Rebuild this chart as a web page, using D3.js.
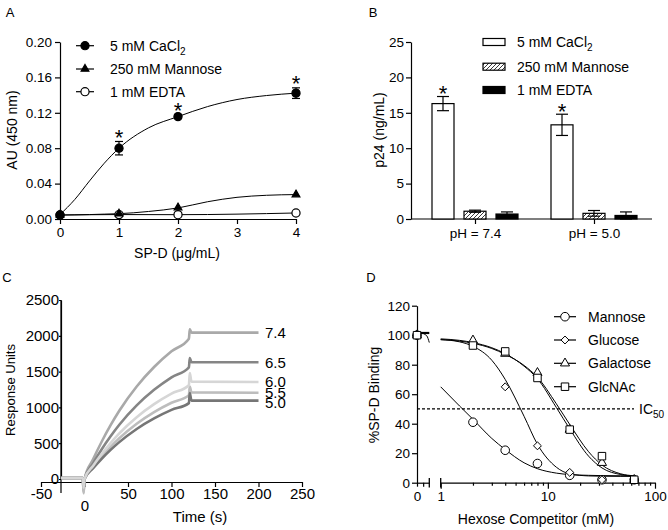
<!DOCTYPE html>
<html><head><meta charset="utf-8">
<script src="https://cdn.jsdelivr.net/npm/d3@7"></script>
<style>body{margin:0;background:#fff}</style>
</head><body>
<script>
// ---- A: binding vs SP-D dose
var doseA = [0, 1, 2, 4];
var caA = [0.0045, 0.080, 0.1157, 0.1422];
var caErrA = [0.001, 0.0076, 0.002, 0.006];
var manA = [0.0045, 0.006, 0.0129, 0.0276];
var edtaA = [0.0045, 0.005, 0.0049, 0.0068];
var fitDoseA = [0, 0.25, 0.5, 0.75, 1, 1.5, 2, 2.5, 3, 3.5, 4];
var caFitA = [0.005, 0.022, 0.043, 0.063, 0.080, 0.103, 0.1157, 0.127, 0.135, 0.1395, 0.1422];
var manFitA = [0.0045, 0.0047, 0.005, 0.0055, 0.006, 0.0085, 0.0125, 0.0195, 0.0245, 0.0268, 0.0276];
var starDoseA = [1, 2, 4];
var legendA = ["5 mM CaCl", "250 mM Mannose", "1 mM EDTA"];

// ---- B: p24 bars
var groupsB = ["pH = 7.4", "pH = 5.0"];
var seriesB = ["5 mM CaCl", "250 mM Mannose", "1 mM EDTA"];
var caB = [16.3, 13.3];
var caErrB = [1.0, 1.5];
var manB = [1.1, 0.8];
var manErrB = [0.15, 0.4];
var edtaB = [0.7, 0.5];
var edtaErrB = [0.3, 0.5];

// ---- C: sensorgrams (time s, response units)
var timeC = [-27, -2, -1, 0, 10, 20, 30, 40, 60, 80, 100, 120, 121, 123, 200];
var ph74 = [15, 15, -180, 0, 278, 527, 751, 953, 1292, 1564, 1784, 1960, 2090, 2045, 2045];
var ph65 = [15, 15, -150, 0, 222, 420, 597, 758, 1028, 1245, 1420, 1560, 1690, 1630, 1630];
var ph60 = [15, 15, -120, 0, 186, 352, 502, 637, 863, 1045, 1192, 1310, 1480, 1360, 1355];
var ph55 = [15, 15, -200, 0, 166, 315, 448, 569, 771, 934, 1065, 1170, 1290, 1210, 1205];
var ph50 = [15, 15, -100, 0, 151, 285, 406, 515, 699, 846, 965, 1060, 1200, 1095, 1095];
var labelsC = ["7.4", "6.5", "6.0", "5.5", "5.0"];

// ---- D: hexose competition
var concD = [2, 4, 8, 16, 32, 64];
var mannoseD = [41, 22, 13, 5, 2, 2];
var glucoseD = [93.5, 65, 25, 7, 2, 2];
var galactoseD = [96.5, 87.5, 74.5, 36, 13.5, 2];
var glcnacD = [93, 89, 71, 36, 18, 2];
var zeroD = 100;
var fitConcD = [1, 1.5, 2, 3, 4, 6, 8, 12, 16, 24, 32, 48, 64];
var mannoseFit = [65, 52, 43, 30, 22.5, 13.5, 9.5, 6.5, 5.5, 5, 4.8, 4.7, 4.7];
var glucoseFit = [97, 95.5, 92.5, 83, 70, 45, 26, 10.5, 6, 4.6, 4.4, 4.3, 4.3];
var galactoseFit = [97.5, 96.5, 95, 91.5, 87.5, 79, 70.5, 51, 36.5, 18, 10, 5.5, 4.5];
var glcnacFit = [97, 96, 94.5, 91, 87, 79.5, 71.5, 53.5, 39.5, 21, 12, 6, 4.7];
var legendD = ["Mannose", "Glucose", "Galactose", "GlcNAc"];

var FONT = "'Liberation Sans', Arial, Helvetica, sans-serif";
var plain = function(d) { return String(d); };

var svg = d3.select("body").append("svg")
  .attr("width", 668).attr("height", 530)
  .attr("font-family", FONT);
svg.append("rect").attr("width", 668).attr("height", 530).attr("fill", "#fff");

var defs = svg.append("defs");
var pat = defs.append("pattern").attr("id", "hatch")
  .attr("patternUnits", "userSpaceOnUse").attr("width", 4).attr("height", 4);
pat.append("rect").attr("width", 4).attr("height", 4).attr("fill", "#fff");
pat.append("path").attr("d", "M-1,1 l2,-2 M0,4 l4,-4 M3,5 l2,-2")
  .attr("stroke", "#222").attr("stroke-width", 0.9);

function styleAxis(g, fs) {
  g.selectAll("path,line").attr("stroke", "#000").attr("stroke-width", 1.2);
  g.selectAll("text").attr("font-size", fs).attr("font-family", FONT).attr("fill", "#000");
}
function title(x, y, txt, rot, fs) {
  var t = svg.append("text").attr("font-size", fs || 14).attr("text-anchor", "middle").attr("fill", "#000");
  if (rot) t.attr("transform", "translate(" + x + "," + y + ") rotate(-90)");
  else t.attr("x", x).attr("y", y);
  t.text(txt);
  return t;
}
function sub(t, s) {
  t.append("tspan").attr("font-size", 10).attr("dy", 4).text(s);
}
function star(x, y) {
  // y = centre of the asterisk
  svg.append("text").attr("x", x).attr("y", y + 12.5).attr("text-anchor", "middle")
    .attr("font-size", 22).text("*");
}

// panel letters
[["A", 10, 17], ["B", 373, 17], ["C", 7, 282], ["D", 371, 282]].forEach(function(p) {
  svg.append("text").attr("x", p[1]).attr("y", p[2]).attr("text-anchor", "middle")
    .attr("font-size", 13).text(p[0]);
});

// ================= A =================
var xA = d3.scaleLinear().domain([0, 4]).range([60, 296]);
var yA = d3.scaleLinear().domain([0, 0.2]).range([219, 42]);

var axA = svg.append("g").attr("transform", "translate(0,219)")
  .call(d3.axisBottom(xA).tickValues([0, 1, 2, 3, 4]).tickFormat(plain)
    .tickSize(5).tickPadding(3).tickSizeOuter(0));
styleAxis(axA, 13.5);
var ayA = svg.append("g").attr("transform", "translate(60,0)")
  .call(d3.axisLeft(yA).tickValues([0, 0.04, 0.08, 0.12, 0.16, 0.2]).tickFormat(d3.format(".2f"))
    .tickSize(5).tickPadding(3).tickSizeOuter(0));
styleAxis(ayA, 13.5);
title(12, 130, "AU (450 nm)", true).attr("dy", "0.35em");
title(177, 258, "SP-D (\u03bcg/mL)");

var lineA = d3.line().x(function(d) { return xA(d[0]); }).y(function(d) { return yA(d[1]); })
  .curve(d3.curveMonotoneX);
var fitsA = [d3.zip(fitDoseA, caFitA), d3.zip(fitDoseA, manFitA), d3.zip(doseA, edtaA)];
svg.selectAll("path.fitA").data(fitsA).enter().append("path").attr("class", "fitA")
  .attr("d", lineA).attr("fill", "none").attr("stroke", "#000").attr("stroke-width", 1);

// error bars on CaCl2
doseA.forEach(function(d, i) {
  var x = xA(d), y0 = yA(caA[i] - caErrA[i]), y1 = yA(caA[i] + caErrA[i]);
  var g = svg.append("g").attr("stroke", "#000").attr("stroke-width", 1.2);
  g.append("line").attr("x1", x).attr("x2", x).attr("y1", y0).attr("y2", y1);
  g.append("line").attr("x1", x - 4).attr("x2", x + 4).attr("y1", y0).attr("y2", y0);
  g.append("line").attr("x1", x - 4).attr("x2", x + 4).attr("y1", y1).attr("y2", y1);
});

var symCircleA = d3.symbol().type(d3.symbolCircle).size(52)();
var symTriA = d3.symbol().type(d3.symbolTriangle).size(26)();
function markA(xs, ys, path, fill) {
  svg.selectAll(null).data(d3.zip(xs, ys)).enter().append("path")
    .attr("d", path).attr("transform", function(d) { return "translate(" + xA(d[0]) + "," + yA(d[1]) + ")"; })
    .attr("fill", fill).attr("stroke", "#000").attr("stroke-width", 1.2);
}
markA(doseA, edtaA, symCircleA, "#fff");
markA(doseA, manA, symTriA, "#000");
markA(doseA, caA, symCircleA, "#000");

starDoseA.forEach(function(d) {
  var i = doseA.indexOf(d);
  star(xA(d), yA(caA[i] + caErrA[i]) - 9);
});

// legend A
var legSymA = [[symCircleA, "#000"], [symTriA, "#000"], [symCircleA, "#fff"]];
[45.7, 69, 91.7].forEach(function(y, i) {
  svg.append("line").attr("x1", 76).attr("x2", 94).attr("y1", y).attr("y2", y)
    .attr("stroke", "#000").attr("stroke-width", 1.2);
  svg.append("path").attr("d", legSymA[i][0]).attr("transform", "translate(85," + y + ")")
    .attr("fill", legSymA[i][1]).attr("stroke", "#000").attr("stroke-width", 1.2);
  var t = svg.append("text").attr("x", 110).attr("y", y).attr("dy", "0.35em").attr("font-size", 14)
    .text(legendA[i]);
  if (i === 0) sub(t, "2");
});

// ================= B =================
var xB = d3.scalePoint().domain(groupsB).range([475, 594]);
var xInB = d3.scaleBand().domain(seriesB).range([-43, 43]).paddingInner(0.3125);
var yB = d3.scaleLinear().domain([0, 25]).range([219, 42]);

var ayB = svg.append("g").attr("transform", "translate(411,0)")
  .call(d3.axisLeft(yB).tickValues([0, 5, 10, 15, 20, 25]).tickSize(5).tickPadding(2).tickSizeOuter(0));
styleAxis(ayB, 13.5);
var axB = svg.append("g").attr("transform", "translate(0,219)")
  .call(d3.axisBottom(xB).tickSize(5).tickPadding(4));
axB.select(".domain").remove();
styleAxis(axB, 13.5);
svg.append("line").attr("x1", 411).attr("x2", 652).attr("y1", 219).attr("y2", 219)
  .attr("stroke", "#000").attr("stroke-width", 1.2);
title(379, 130, "p24 (ng/mL)", true).attr("dy", "0.35em");

var fillB = ["#fff", "url(#hatch)", "#000"];
var valsB = [caB, manB, edtaB];
var errsB = [caErrB, manErrB, edtaErrB];
seriesB.forEach(function(s, si) {
  groupsB.forEach(function(g, gi) {
    var x = xB(g) + xInB(s), w = xInB.bandwidth(), v = valsB[si][gi], e = errsB[si][gi];
    svg.append("rect").attr("x", x).attr("y", yB(v)).attr("width", w).attr("height", yB(0) - yB(v))
      .attr("fill", fillB[si]).attr("stroke", "#000").attr("stroke-width", 1.2);
    var cx = x + w / 2, y0 = yB(v - e), y1 = yB(v + e);
    var eg = svg.append("g").attr("stroke", "#000").attr("stroke-width", 1.2);
    eg.append("line").attr("x1", cx).attr("x2", cx).attr("y1", y0).attr("y2", y1);
    eg.append("line").attr("x1", cx - 6).attr("x2", cx + 6).attr("y1", y1).attr("y2", y1);
    eg.append("line").attr("x1", cx - 6).attr("x2", cx + 6).attr("y1", y0).attr("y2", y0);
    if (si === 0) star(cx, y1 - 8);
  });
});

// legend B
[42, 66.7, 90].forEach(function(y, i) {
  svg.append("rect").attr("x", 483).attr("y", y - 3.5).attr("width", 22).attr("height", 7)
    .attr("fill", fillB[i]).attr("stroke", "#000").attr("stroke-width", 1.2);
  var t = svg.append("text").attr("x", 517).attr("y", y).attr("dy", "0.35em").attr("font-size", 14)
    .text(seriesB[i]);
  if (i === 0) sub(t, "2");
});

// ================= C =================
var xC = d3.scaleLinear().domain([-50, 250]).range([41, 302]);
var yC = d3.scaleLinear().domain([0, 2500]).range([479, 300]);

var axC = svg.append("g").attr("transform", "translate(0,482)")
  .call(d3.axisBottom(xC).tickValues([-50, 0, 50, 100, 150, 200, 250]).tickFormat(plain)
    .tickSize(5).tickPadding(1).tickSizeOuter(0));
styleAxis(axC, 15);
axC.selectAll(".tick text").filter(function(d) { return d === 0; }).attr("dy", "1.55em");
var ayC = svg.append("g").attr("transform", "translate(61,0)")
  .call(d3.axisLeft(yC).tickValues([0, 500, 1000, 1500, 2000, 2500]).tickFormat(plain)
    .tickSize(2).tickPadding(0).tickSizeOuter(0));
styleAxis(ayC, 15);
svg.append("line").attr("x1", 61).attr("x2", 61).attr("y1", 300).attr("y2", 493)
  .attr("stroke", "#000").attr("stroke-width", 1.2);
title(10, 390, "Response Units", true, 13).attr("dy", "0.35em");
title(200, 522, "Time (s)", false, 15);

var seriesC = [ph74, ph65, ph55, ph50, ph60];
var colC = ["#a9a9a9", "#858585", "#bdbdbd", "#767676", "#d6d6d6"];
var lineC = d3.line().x(function(d) { return xC(d[0]); }).y(function(d) { return yC(d[1]); })
  .curve(d3.curveMonotoneX);
seriesC.forEach(function(s, i) {
  svg.append("path").attr("d", lineC(d3.zip(timeC, s))).attr("fill", "none")
    .attr("stroke", colC[i]).attr("stroke-width", 2.6).attr("stroke-linejoin", "round");
});
var plateauC = [ph74, ph65, ph60, ph55, ph50];
labelsC.forEach(function(l, i) {
  var s = plateauC[i];
  svg.append("text").attr("x", 265).attr("y", yC(s[s.length - 1]) + (i === 4 ? 2 : 0))
    .attr("dy", "0.35em").attr("font-size", 15).text(l);
});

// ================= D =================
var yD = d3.scaleLinear().domain([0, 120]).range([482.7, 305.7]);
var xD0 = d3.scaleLinear().domain([0, 1]).range([417, 429.3]);
var xD = d3.scaleLog().domain([1, 100]).range([440.7, 655]);

var ayD = svg.append("g").attr("transform", "translate(417,0)")
  .call(d3.axisLeft(yD).tickValues([0, 20, 40, 60, 80, 100, 120]).tickSize(5).tickPadding(2).tickSizeOuter(0));
styleAxis(ayD, 13.5);
var ax0D = svg.append("g").attr("transform", "translate(0,482.7)")
  .call(d3.axisBottom(xD0).tickValues([0, 0.5]).tickFormat(function(d) { return d === 0 ? "0" : ""; })
    .tickSize(4).tickPadding(5).tickSizeOuter(0));
styleAxis(ax0D, 13.5);
var logTicks = [1, 2, 3, 4, 5, 6, 7, 8, 9, 10, 20, 30, 40, 50, 60, 70, 80, 90, 100];
var axD = svg.append("g").attr("transform", "translate(0,482.7)")
  .call(d3.axisBottom(xD).tickValues(logTicks)
    .tickFormat(function(d) { return (d === 1 || d === 10 || d === 100) ? d : ""; })
    .tickSize(3).tickPadding(6).tickSizeOuter(0));
styleAxis(axD, 13.5);
axD.selectAll(".tick line").attr("y2", function(d) { return (d === 1 || d === 10 || d === 100) ? 6 : 3; });
// axis break marks
[429.3, 440.7].forEach(function(x) {
  svg.append("line").attr("x1", x).attr("x2", x).attr("y1", 478).attr("y2", 487.5)
    .attr("stroke", "#000").attr("stroke-width", 1.3);
});
title(374, 395, "%SP-D Binding", true).attr("dy", "0.35em");
title(536, 524, "Hexose Competitor (mM)");

// IC50 line
svg.append("line").attr("x1", 417).attr("x2", 634).attr("y1", yD(50)).attr("y2", yD(50))
  .attr("stroke", "#000").attr("stroke-width", 1.2).attr("stroke-dasharray", "3,2");
var ic = svg.append("text").attr("x", 639).attr("y", yD(50)).attr("dy", "0.35em").attr("font-size", 14).text("IC");
sub(ic, "50");

// fitted curves
var lineD = d3.line().x(function(d) { return xD(d[0]); }).y(function(d) { return yD(d[1]); })
  .curve(d3.curveMonotoneX);
[mannoseFit, glucoseFit, galactoseFit, glcnacFit].forEach(function(f) {
  svg.append("path").attr("d", lineD(d3.zip(fitConcD, f))).attr("fill", "none")
    .attr("stroke", "#000").attr("stroke-width", 1);
});
// fit stubs in the zero segment
var line0 = d3.line().x(function(d) { return xD0(d[0]); }).y(function(d) { return yD(d[1]); })
  .curve(d3.curveMonotoneX);
svg.append("path").attr("d", line0([[0, 101.5], [1, 101.5]])).attr("stroke", "#000").attr("stroke-width", 2.2).attr("fill", "none");
svg.append("path").attr("d", line0([[0.55, 100.8], [0.8, 99.5], [1, 95]])).attr("stroke", "#000").attr("stroke-width", 1).attr("fill", "none");

var diamondType = d3.symbolDiamond2 || d3.symbolDiamond;
var symD = [
  d3.symbol().type(d3.symbolCircle).size(58)(),
  d3.symbol().type(diamondType).size(40)(),
  d3.symbol().type(d3.symbolTriangle).size(36)(),
  d3.symbol().type(d3.symbolSquare).size(56)()
];
var dataD = [mannoseD, glucoseD, galactoseD, glcnacD];
dataD.forEach(function(vals, i) {
  var pts = [[xD0(0), yD(zeroD)]].concat(concD.map(function(c, j) { return [xD(c), yD(vals[j])]; }));
  svg.selectAll(null).data(pts).enter().append("path").attr("d", symD[i])
    .attr("transform", function(d) { return "translate(" + d[0] + "," + d[1] + ")"; })
    .attr("fill", "#fff").attr("stroke", "#000").attr("stroke-width", 1);
});

// legend D
[316.7, 340, 363.3, 386.7].forEach(function(y, i) {
  svg.append("line").attr("x1", 554).attr("x2", 576).attr("y1", y).attr("y2", y)
    .attr("stroke", "#000").attr("stroke-width", 1.2);
  svg.append("path").attr("d", symD[i]).attr("transform", "translate(565," + y + ")")
    .attr("fill", "#fff").attr("stroke", "#000").attr("stroke-width", 1);
  svg.append("text").attr("x", 588).attr("y", y).attr("dy", "0.35em").attr("font-size", 14).text(legendD[i]);
});
</script>
</body></html>
